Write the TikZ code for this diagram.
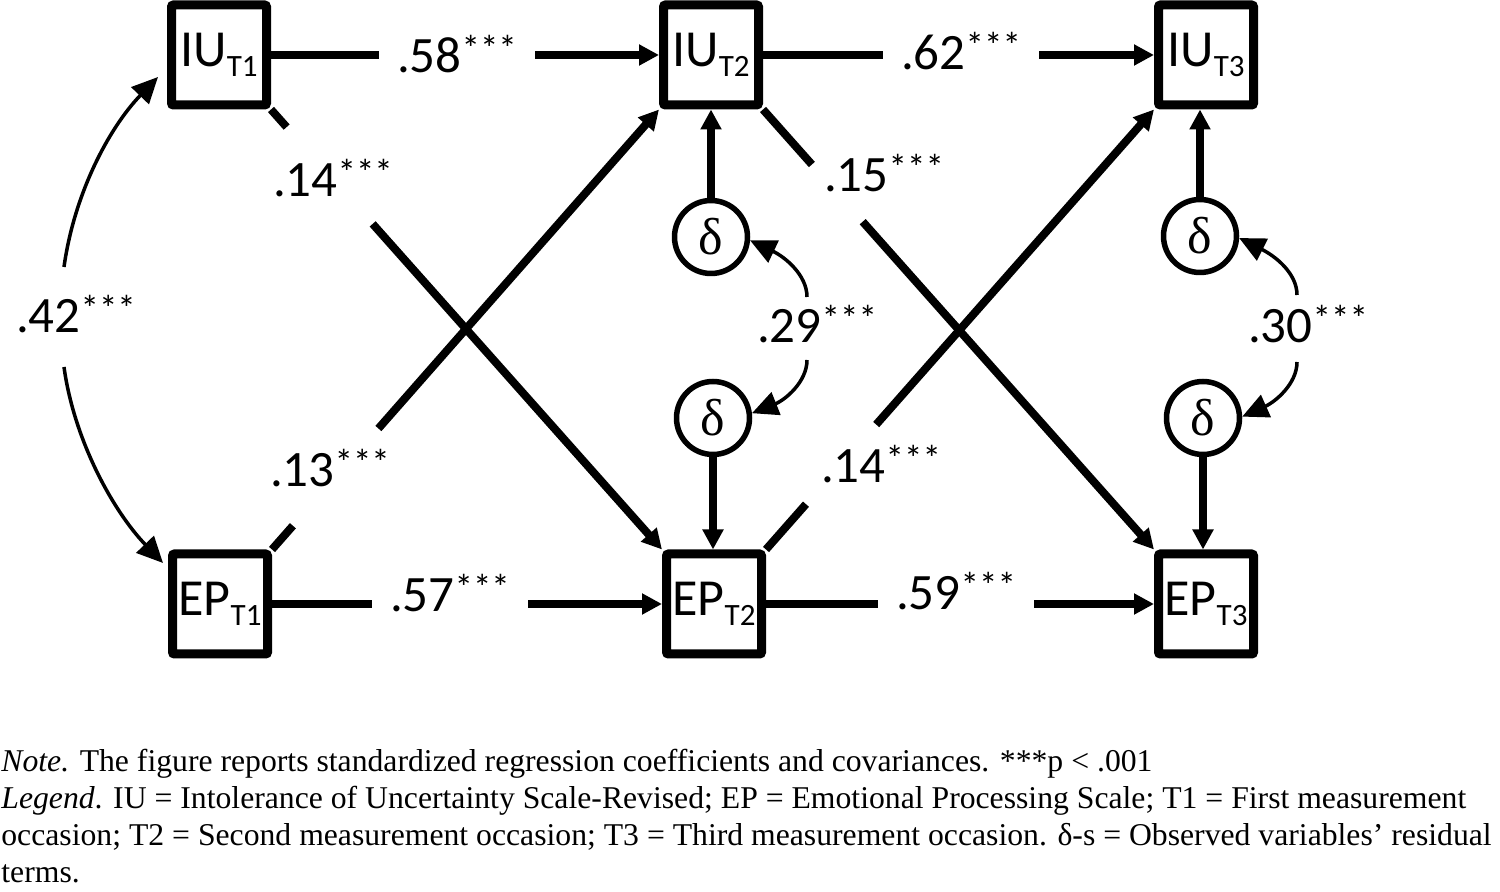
\documentclass[tikz,border=0pt]{standalone}
\usepackage{fontspec}
\setmainfont{Carlito}
\newfontfamily\capfont{Liberation Serif}
\usetikzlibrary{arrows.meta}
\newcommand\varsub[1]{\raisebox{-5pt}{\fontsize{15.5}{16}\selectfont #1}}
\newcommand\stars{\raisebox{5.5pt}{\fontsize{18.5}{18}\selectfont ***}}
\begin{document}
\begin{tikzpicture}[x=0.5pt,y=-0.5pt,
  var/.style={draw, line width=4.5pt, rounded corners=1pt, minimum width=47.5pt, minimum height=50pt, inner sep=0pt, font=\fontsize{26}{28}\selectfont},
  res/.style={circle, draw, line width=2.75pt, minimum size=36.5pt, inner sep=0pt, font=\capfont\fontsize{26}{28}\selectfont},
  coef/.style={anchor=base, inner xsep=9pt, inner ysep=0pt, font=\fontsize{25.5}{28}\selectfont},
  pathline/.style={line width=4pt},
  reg/.style={pathline, -{Triangle[length=10pt,width=10pt]}},
  cov/.style={line width=1.75pt, -{Triangle[length=13pt,width=12pt]}},
  captext/.style={anchor=base west, inner sep=0pt, font=\capfont\fontsize{15.85}{18}\selectfont},
]
\useasboundingbox (0,0) rectangle (1500,892);

% observed variables
\node[var] (iu1) at (219,55) {IU\varsub{T1}};
\node[var] (iu2) at (711,55) {IU\varsub{T2}};
\node[var] (iu3) at (1206,55) {IU\varsub{T3}};
\node[var] (ep1) at (220,604) {EP\varsub{T1}};
\node[var] (ep2) at (714,604) {EP\varsub{T2}};
\node[var] (ep3) at (1206,604) {EP\varsub{T3}};

% residuals
\node[res] (d2u) at (711,237) {δ};
\node[res] (d2l) at (713,418) {δ};
\node[res] (d3u) at (1200,236) {δ};
\node[res] (d3l) at (1203,418) {δ};

% coefficient labels
\node[coef] (l58) at (457,73) {.58\stars};
\node[coef] (l62) at (961,70) {.62\stars};
\node[coef] (l14a) at (333,197) {.14\stars};
\node[coef] (l15) at (884,192) {.15\stars};
\node[coef] (l42) at (76,333) {.42\stars};
\node[coef] (l29) at (817,343) {.29\stars};
\node[coef] (l30) at (1308,343) {.30\stars};
\node[coef] (l13) at (330,487) {.13\stars};
\node[coef] (l14b) at (881,483) {.14\stars};
\node[coef] (l57) at (450,612) {.57\stars};
\node[coef] (l59) at (956,610) {.59\stars};

% autoregressive paths
\draw[pathline] (iu1.east) -- (iu1.east -| l58.west);
\draw[reg] (iu1.east -| l58.east) -- (iu2.west);
\draw[pathline] (iu2.east) -- (iu2.east -| l62.west);
\draw[reg] (iu2.east -| l62.east) -- (iu3.west);
\draw[pathline] (ep1.east) -- (ep1.east -| l57.west);
\draw[reg] (ep1.east -| l57.east) -- (ep2.west);
\draw[pathline] (ep2.east) -- (ep2.east -| l59.west);
\draw[reg] (ep2.east -| l59.east) -- (ep3.west);

% cross-lagged paths
\path (iu1.south east) -- (ep2.north west) coordinate[pos=0.04] (a1) coordinate[pos=0.26] (a2);
\draw[pathline] (iu1.south east) -- (a1);
\draw[reg] (a2) -- (ep2.north west);
\path (ep1.north east) -- (iu2.south west) coordinate[pos=0.054] (b1) coordinate[pos=0.275] (b2);
\draw[pathline] (ep1.north east) -- (b1);
\draw[reg] (b2) -- (iu2.south west);
\path (iu2.south east) -- (ep3.north west) coordinate[pos=0.125] (c1) coordinate[pos=0.255] (c2);
\draw[pathline] (iu2.south east) -- (c1);
\draw[reg] (c2) -- (ep3.north west);
\path (ep2.north east) -- (iu3.south west) coordinate[pos=0.103] (e1) coordinate[pos=0.284] (e2);
\draw[pathline] (ep2.north east) -- (e1);
\draw[reg] (e2) -- (iu3.south west);

% residual paths
\draw[reg] (d2u.north) -- (d2u.north |- iu2.south);
\draw[reg] (d2l.south) -- (d2l.south |- ep2.north);
\draw[reg] (d3u.north) -- (d3u.north |- iu3.south);
\draw[reg] (d3l.south) -- (d3l.south |- ep3.north);

% covariances
\coordinate (c42a) at (64,267);
\coordinate (c42b) at (64,367);
\coordinate (t42a) at (158,77);
\coordinate (t42b) at (163,563);
\draw[cov] (c42a) .. controls (74,195) and (108,129) .. (t42a);
\draw[cov] (c42b) .. controls (74,440) and (113,511) .. (t42b);

\coordinate (c29a) at (807,297);
\coordinate (c29b) at (807,360);
\draw[cov] (c29a) .. controls (807,275) and (785,257) .. (d2u.-5);
\draw[cov] (c29b) .. controls (807,382) and (785,400) .. (d2l.7);

\coordinate (c30a) at (1297,295);
\coordinate (c30b) at (1297,362);
\draw[cov] (c30a) .. controls (1297,273) and (1275,256) .. (d3u.-3);
\draw[cov] (c30b) .. controls (1297,384) and (1275,402) .. (d3l.2);

% caption
\node[captext] (n1) at (1,771) {\textit{Note.} The figure reports standardized regression coefficients and covariances. ***p < .001};
\node[captext] (n2) at (1,808) {\textit{Legend}. IU = Intolerance of Uncertainty Scale-Revised; EP = Emotional Processing Scale; T1 = First measurement};
\node[captext] (n3) at (1,845) {occasion; T2 = Second measurement occasion; T3 = Third measurement occasion. δ-s = Observed variables’ residual};
\node[captext] (n4) at (1,882) {terms.};
\end{tikzpicture}
\end{document}
